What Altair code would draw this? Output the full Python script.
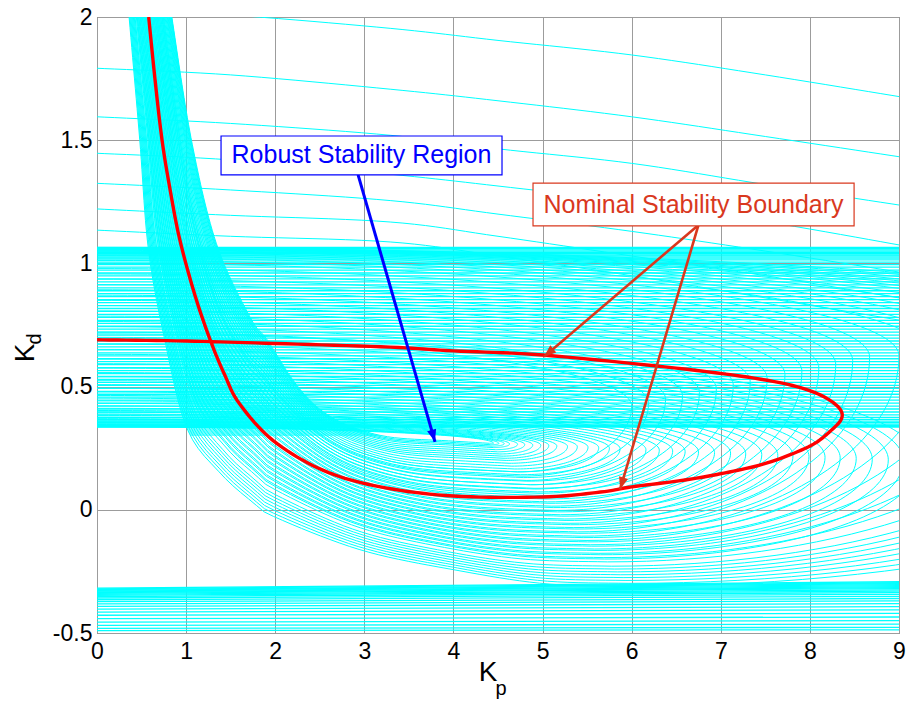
import math
import numpy as np
import pandas as pd
import altair as alt

alt.data_transformers.disable_max_rows()

# ---------------- values ----------------
# nominal stability boundary (red)
red_kp = [0.58, 0.65, 0.73, 0.82, 0.93, 1.10, 1.27, 1.43, 1.60, 1.98, 2.54, 3.18, 4.00, 5.00, 5.65,
          6.00, 6.58, 7.05, 7.52, 7.98, 8.20, 8.36, 8.28, 7.98, 7.45, 6.50, 5.00, 4.00, 3.29, 2.00,
          1.00, 0.00]
red_kd = [2.00, 1.75, 1.50, 1.30, 1.095, 0.87, 0.69, 0.55, 0.43, 0.28, 0.16, 0.093, 0.056, 0.052, 0.072,
          0.093, 0.12, 0.15, 0.19, 0.255, 0.31, 0.375, 0.43, 0.486, 0.53, 0.575, 0.628, 0.645, 0.66, 0.675,
          0.685, 0.69]

# edges of the hyperbolic cyan band
ub_kp = [0.84, 1.06, 1.34, 1.72, 1.91, 2.20, 2.47, 2.80, 3.27, 3.94, 4.40]
ub_kd = [2.00, 1.50, 1.08, 0.78, 0.69, 0.526, 0.417, 0.345, 0.296, 0.28, 0.27]
lb_kp = [0.36, 0.48, 0.576, 0.76, 1.01, 1.38, 1.75, 2.00, 2.97, 4.03, 5.03, 6.00]
lb_kd = [2.00, 1.50, 1.06, 0.69, 0.33, 0.15, 0.03, -0.03, -0.164, -0.245, -0.30, -0.31]

# flat cyan lines of the upper band (Kd levels)
band_levels = [1.065, 1.060, 1.055, 1.050, 1.045, 1.040, 1.035, 1.030, 1.022, 1.014, 1.005, 0.995,
               0.985, 0.973, 0.961, 0.949, 0.937, 0.925, 0.913, 0.901, 0.889, 0.877, 0.865, 0.853,
               0.841, 0.829, 0.817, 0.805, 0.793, 0.781, 0.769, 0.757, 0.745, 0.733, 0.721, 0.709,
               0.697, 0.685, 0.673, 0.661, 0.649, 0.637, 0.625, 0.613, 0.601, 0.589, 0.577, 0.565,
               0.553, 0.541, 0.529, 0.517, 0.505, 0.493, 0.481, 0.469, 0.457, 0.445, 0.433, 0.421,
               0.409, 0.397, 0.385, 0.375, 0.367, 0.360, 0.354, 0.348, 0.343, 0.339, 0.336]

# cyan lines of the lower band (Kd at Kp=0 and at Kp=9)
bot_left = [-0.318, -0.321, -0.324, -0.327, -0.330, -0.333, -0.336, -0.339, -0.343, -0.347, -0.352,
            -0.358, -0.365, -0.373, -0.382, -0.392, -0.403, -0.415, -0.428, -0.442, -0.456, -0.469,
            -0.481, -0.490]
bot_right = [-0.292, -0.296, -0.300, -0.304, -0.308, -0.312, -0.316, -0.320, -0.325, -0.330, -0.336,
             -0.343, -0.351, -0.360, -0.370, -0.381, -0.393, -0.406, -0.420, -0.435, -0.450, -0.464,
             -0.477, -0.487]

# sloped cyan lines above the band
up_x = [0.0, 1.5, 3.29, 4.5, 6.0, 7.5, 9.0]
upper_lines = [
    [2.035, 2.008, 1.954, 1.905, 1.846, 1.765, 1.677],
    [1.792, 1.765, 1.707, 1.660, 1.595, 1.515, 1.433],
    [1.595, 1.568, 1.520, 1.465, 1.406, 1.320, 1.237],
    [1.447, 1.420, 1.362, 1.314, 1.250, 1.170, 1.075],
    [1.325, 1.298, 1.255, 1.200, 1.130, 1.050, 0.965],
    [1.221, 1.195, 1.168, 1.110, 1.030, 0.950, 0.860],
    [1.135, 1.110, 1.087, 1.030, 0.950, 0.860, 0.770],
]

# perturbed boundary loops: top level at Kp=0 (T), tip (xt, yt), place inside the hyperbolic band (w)
low_w = [0.00, 0.01, 0.02, 0.03, 0.045, 0.06, 0.075, 0.09, 0.105, 0.12, 0.14, 0.16, 0.18, 0.20, 0.22,
         0.24, 0.265, 0.29, 0.315, 0.34, 0.365, 0.39, 0.42, 0.45, 0.48, 0.51, 0.54, 0.57, 0.60, 0.63,
         0.66, 0.69, 0.72, 0.75, 0.78, 0.81]
low_T = [0.336, 0.338, 0.340, 0.342, 0.346, 0.349, 0.353, 0.357, 0.361, 0.365, 0.370, 0.376, 0.383,
         0.389, 0.396, 0.403, 0.412, 0.422, 0.432, 0.442, 0.453, 0.464, 0.478, 0.493, 0.508, 0.524,
         0.540, 0.557, 0.575, 0.593, 0.612, 0.631, 0.651, 0.672, 0.693, 0.714]
low_xt = [4.45, 4.51, 4.57, 4.63, 4.72, 4.80, 4.89, 4.98, 5.07, 5.16, 5.28, 5.39, 5.51, 5.63, 5.75,
          5.87, 6.01, 6.16, 6.31, 6.46, 6.60, 6.75, 6.93, 7.11, 7.28, 7.46, 7.64, 7.81, 7.99, 8.17,
          8.34, 8.52, 8.70, 8.88, 9.05, 9.23]
low_yt = [0.270, 0.269, 0.268, 0.267, 0.266, 0.265, 0.263, 0.262, 0.261, 0.259, 0.257, 0.256, 0.254,
          0.252, 0.250, 0.248, 0.246, 0.244, 0.242, 0.239, 0.237, 0.235, 0.232, 0.230, 0.227, 0.224,
          0.221, 0.219, 0.216, 0.213, 0.211, 0.208, 0.205, 0.203, 0.200, 0.197]

up_w = [0.20, 0.23, 0.26, 0.29, 0.32, 0.35, 0.38, 0.41, 0.44, 0.47, 0.50, 0.53, 0.56, 0.59, 0.62,
        0.65, 0.68, 0.71, 0.74, 0.77, 0.80, 0.83, 0.86, 0.88, 0.90, 0.92, 0.94, 0.96, 0.98, 1.00]
up_T = [0.700, 0.721, 0.743, 0.764, 0.786, 0.807, 0.829, 0.850, 0.871, 0.893, 0.914, 0.936, 0.957,
        0.979, 1.000, 1.012, 1.022, 1.031, 1.038, 1.044, 1.049, 1.053, 1.056, 1.058, 1.060, 1.061,
        1.062, 1.063, 1.064, 1.065]
up_xt = [6.00, 6.19, 6.38, 6.57, 6.76, 6.95, 7.14, 7.33, 7.52, 7.72, 7.91, 8.10, 8.29, 8.48, 8.67,
         9.00, 9.35, 9.70, 10.05, 10.40, 10.80, 11.20, 11.60, 11.90, 12.20, 12.50, 12.80, 13.20, 13.60,
         14.00]
up_yt = [0.420, 0.434, 0.449, 0.463, 0.477, 0.491, 0.506, 0.520, 0.534, 0.549, 0.563, 0.577, 0.591,
         0.606, 0.620, 0.625, 0.630, 0.630, 0.630, 0.630, 0.630, 0.630, 0.630, 0.630, 0.630, 0.630,
         0.630, 0.630, 0.630, 0.630]

# ---------------- layout ----------------
W, H = 802, 616
PX_X, PX_Y = W / 9.0, H / 2.5
CYAN = "#00FFFF"
ORANGE = "#D9381E"
BLUE = "#0000FF"
FONT = "Liberation Sans"


def catmull(xs, ys, k=16):
    P = np.column_stack([xs, ys]).astype(float)
    P = np.vstack([P[0], P, P[-1]])
    out = []
    for i in range(1, len(P) - 2):
        p0, p1, p2, p3 = P[i - 1], P[i], P[i + 1], P[i + 2]
        for t in np.linspace(0, 1, k, endpoint=False):
            t2, t3 = t * t, t * t * t
            out.append(0.5 * ((2 * p1) + (-p0 + p2) * t + (2 * p0 - 5 * p1 + 4 * p2 - p3) * t2
                              + (-p0 + 3 * p1 - 3 * p2 + p3) * t3))
    out.append(P[-2])
    return np.array(out)


def resample(xs, ys, n):
    c = catmull(xs, ys)
    px, py = c[:, 0] * PX_X, c[:, 1] * PX_Y
    s = np.concatenate([[0], np.cumsum(np.hypot(np.diff(px), np.diff(py)))])
    s /= s[-1]
    t = np.linspace(0, 1, n)
    return np.interp(t, s, c[:, 0]), np.interp(t, s, c[:, 1])


ubx, uby = resample(ub_kp, ub_kd, 90)
lbx, lby = resample(lb_kp, lb_kd, 90)

rows = []
cid = 0


def add(xs, ys, g):
    global cid
    for i, (a, b) in enumerate(zip(xs, ys)):
        rows.append({"id": cid, "g": g, "o": i, "kp": round(float(a), 4), "kd": round(float(b), 4)})
    cid += 1


for lv in band_levels:
    add([0.0, 9.0], [lv, lv], "band")
for a, b in zip(bot_left, bot_right):
    add([0.0, 9.0], [a, b], "band")


def loop(T, xt, yt, w):
    hx = (1 - w) * ubx + w * lbx
    hy = (1 - w) * uby + w * lby
    xb, yb = hx[-1], hy[-1]
    th = np.linspace(0, np.pi / 2, 40)[1:]
    bx = xb + (xt - xb) * np.sin(th)
    by = yt - (yt - yb) * np.cos(th)
    ph = np.linspace(0, np.pi / 2, 70)[1:]
    tx = xt * np.cos(ph)
    ty = yt + (T - yt) * np.sin(ph)
    add(np.concatenate([hx, bx, tx]), np.concatenate([hy, by, ty]), "loop")


for T, xt, yt, w in zip(low_T, low_xt, low_yt, low_w):
    loop(T, xt, yt, w)
for T, xt, yt, w in zip(up_T, up_xt, up_yt, up_w):
    loop(T, xt, yt, w)

for ln in upper_lines:
    c = catmull(up_x, ln, 10)
    add(c[:, 0], c[:, 1], "loop")

cyan_df = pd.DataFrame(rows)

# shading of the dense hyperbolic band (between its two read edges)
ys = np.linspace(0.30, 2.0, 140)
fill_df = pd.DataFrame({
    "kd": np.round(ys, 4),
    "kp": np.round(np.interp(ys, lby[::-1], lbx[::-1]), 4),
    "kp2": np.round(np.interp(ys, uby[::-1], ubx[::-1]), 4),
})

rc = catmull(red_kp, red_kd, 10)
red_df = pd.DataFrame({"kp": np.round(rc[:, 0], 4), "kd": np.round(rc[:, 1], 4),
                       "o": list(range(len(rc)))})

X = alt.X("kp:Q", scale=alt.Scale(domain=[0, 9], nice=False, zero=False),
          axis=alt.Axis(values=list(range(10)), title=None, grid=True, gridColor="#9c9c9c",
                        gridWidth=1, ticks=False, domain=False, labelFont=FONT, labelFontSize=23,
                        labelColor="black", labelPadding=7, labelFlush=False, labelOverlap=False))
Y = alt.Y("kd:Q", scale=alt.Scale(domain=[-0.5, 2], nice=False, zero=False),
          axis=alt.Axis(values=[-0.5, 0, 0.5, 1, 1.5, 2], title=None, grid=True, gridColor="#9c9c9c",
                        gridWidth=1, ticks=False, domain=False, labelFont=FONT, labelFontSize=23,
                        labelColor="black", labelPadding=5, labelFlush=False, labelOverlap=False,
                        labelExpr="toString(datum.value)"))

band_fill = alt.Chart(fill_df).mark_area(orient="horizontal", color=CYAN, opacity=0.55,
                                         clip=True).encode(x=X, x2="kp2:Q", y=Y)

cyan_band = alt.Chart(cyan_df[cyan_df.g == "band"]).mark_line(
    color=CYAN, strokeWidth=1.3, clip=True).encode(x=X, y=Y, detail="id:N", order="o:Q")
cyan_loops = alt.Chart(cyan_df[cyan_df.g == "loop"]).mark_line(
    color=CYAN, strokeWidth=1.0, clip=True).encode(x=X, y=Y, detail="id:N", order="o:Q")

red = alt.Chart(red_df).mark_line(color="#FF0000", strokeWidth=3.4, clip=True).encode(
    x=X, y=Y, order="o:Q")

# annotations (data coordinates)
arrows = [
    (2.93, 1.359, 3.793, 0.276, BLUE),
    (6.75, 1.156, 5.016, 0.621, ORANGE),
    (6.75, 1.156, 5.87, 0.083, ORANGE),
]
arr_rows, head_rows = [], []
for k, (x0, y0, x1, y1, col) in enumerate(arrows):
    arr_rows += [{"a": k, "o": 0, "kp": x0, "kd": y0},
                 {"a": k, "o": 1, "kp": x1, "kd": y1}]
    ang = math.degrees(math.atan2((x1 - x0) * PX_X, (y1 - y0) * PX_Y)) % 360
    head_rows.append({"kp": x1, "kd": y1, "ang": ang, "col": col})
arr_df = pd.DataFrame(arr_rows)
head_df = pd.DataFrame(head_rows)

blue_line = alt.Chart(arr_df[arr_df.a == 0]).mark_line(color=BLUE, strokeWidth=3.0).encode(
    x=X, y=Y, order="o:Q")
red_lines = alt.Chart(arr_df[arr_df.a > 0]).mark_line(color=ORANGE, strokeWidth=2.6).encode(
    x=X, y=Y, detail="a:N", order="o:Q")
heads = alt.Chart(head_df).mark_point(shape="M0,0L0.38,1L-0.38,1Z", filled=True, opacity=1,
                                      size=600, strokeWidth=0).encode(
    x=X, y=Y, angle=alt.Angle("ang:Q", scale=None), color=alt.Color("col:N", scale=None))

box_df = pd.DataFrame({
    "kp": [1.392, 4.893], "kp2": [4.545, 8.496],
    "kd": [1.517, 1.326], "kd2": [1.359, 1.152],
    "col": [BLUE, ORANGE],
})
boxes = alt.Chart(box_df).mark_rect(fill="white", strokeWidth=1.2).encode(
    x=X, x2="kp2:Q", y=Y, y2="kd2:Q", stroke=alt.Stroke("col:N", scale=None))

lab_df = pd.DataFrame({
    "kp": [2.968, 6.694], "kd": [1.438, 1.239],
    "t": ["Robust Stability Region", "Nominal Stability Boundary"], "col": [BLUE, ORANGE],
})
labels = alt.Chart(lab_df).mark_text(font=FONT, fontSize=25, align="center", baseline="middle").encode(
    x=X, y=Y, text="t:N", color=alt.Color("col:N", scale=None))

t_df = pd.DataFrame({"t": ["K"]})
xk = alt.Chart(t_df).mark_text(font=FONT, fontSize=28, align="center", baseline="middle",
                               color="black").encode(x=alt.value(391), y=alt.value(656), text="t:N")
xp = alt.Chart(pd.DataFrame({"t": ["p"]})).mark_text(font=FONT, fontSize=20, align="center",
                                                     baseline="middle", color="black").encode(
    x=alt.value(404), y=alt.value(672), text="t:N")
yk = alt.Chart(t_df).mark_text(font=FONT, fontSize=28, align="center", baseline="middle", angle=270,
                               color="black").encode(x=alt.value(-71), y=alt.value(336), text="t:N")
yd = alt.Chart(pd.DataFrame({"t": ["d"]})).mark_text(font=FONT, fontSize=20, align="center",
                                                     baseline="middle", angle=270,
                                                     color="black").encode(
    x=alt.value(-62), y=alt.value(322), text="t:N")

chart = alt.layer(band_fill, cyan_band, cyan_loops, red, blue_line, red_lines, heads, boxes, labels,
                  xk, xp, yk, yd).properties(
    width=W, height=H, background="white",
    padding={"left": 97, "top": 17, "right": 11, "bottom": 74},
    autosize=alt.AutoSizeParams(type="none"),
).configure_view(stroke="#555555", strokeWidth=1)

chart.save("out.html", embed_options={"renderer": "svg", "actions": False})
